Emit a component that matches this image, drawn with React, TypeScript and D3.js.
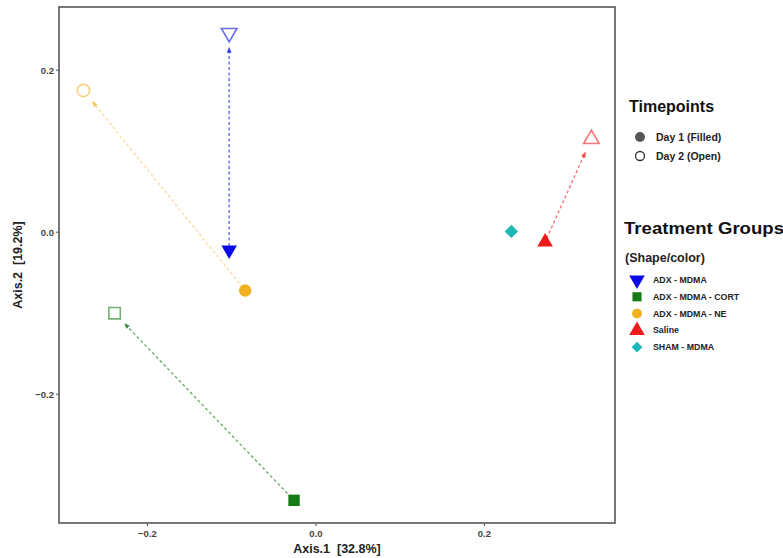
import React from "react";
import * as d3 from "d3";

// treatment groups, day 1 (filled) and day 2 (open) ordination coordinates
const groups = ["ADX - MDMA", "ADX - MDMA - CORT", "ADX - MDMA - NE", "Saline", "SHAM - MDMA"];
const colors = ["#0a0ae8", "#167a16", "#f0b020", "#ee1b1b", "#1cb8b8"];
const shapes = ["triDown", "square", "circle", "triUp", "diamond"];
const day1X = [-0.103, -0.026, -0.084, 0.272, 0.232];
const day1Y = [-0.022, -0.331, -0.072, -0.012, 0.001];
const day2X = [-0.103, -0.239, -0.276, 0.327, null];
const day2Y = [0.246, -0.1, 0.175, 0.115, null];
const xTicks = [-0.2, 0.0, 0.2];
const yTicks = [-0.2, 0.0, 0.2];

const W = 783;
const H = 558;
const panel = { left: 59, top: 7, right: 615, bottom: 523 };

const symbolPath = (shape: string, big: boolean) => {
  const k = big ? 1 : 0.8;
  if (shape === "triDown" || shape === "triUp")
    return d3.symbol(d3.symbolTriangle, 105 * k * k)()!;
  if (shape === "square") return d3.symbol(d3.symbolSquare, 130 * k * k)()!;
  if (shape === "diamond") return d3.symbol(d3.symbolSquare, 90 * k * k)()!;
  return d3.symbol(d3.symbolCircle, 120 * k * k)()!;
};

const rot = (shape: string) =>
  shape === "triDown" ? 180 : shape === "diamond" ? 45 : 0;

const App = () => {
  const x = d3.scaleLinear().domain([-0.305, 0.355]).range([panel.left, panel.right]);
  const y = d3.scaleLinear().domain([-0.359, 0.278]).range([panel.bottom, panel.top]);

  const font = "'Liberation Sans', Arial, sans-serif";

  const arrows = groups
    .map((g, i) => {
      if (day2X[i] == null) return null;
      const x1 = x(day1X[i]);
      const y1 = y(day1Y[i]);
      const x2 = x(day2X[i] as number);
      const y2 = y(day2Y[i] as number);
      const len = Math.hypot(x2 - x1, y2 - y1);
      const ux = (x2 - x1) / len;
      const uy = (y2 - y1) / len;
      return {
        i,
        x1: x1 + ux * 4,
        y1: y1 + uy * 4,
        x2: x2 - ux * 15,
        y2: y2 - uy * 15,
      };
    })
    .filter((a) => a != null) as { i: number; x1: number; y1: number; x2: number; y2: number }[];

  return (
    <svg width={W} height={H} style={{ position: "absolute", left: 0, top: 0 }}>
      <defs>
        {colors.map((c, i) => (
          <marker
            key={i}
            id={`arr${i}`}
            viewBox="0 0 10 10"
            refX={8}
            refY={5}
            markerWidth={6}
            markerHeight={6}
            markerUnits="userSpaceOnUse"
            orient="auto"
          >
            <path d="M0,1 L10,5 L0,9 Z" fill={c} opacity={0.75} />
          </marker>
        ))}
      </defs>
      <rect width={W} height={H} fill="#fff" />

      {/* arrows day1 -> day2 */}
      {arrows.map((a) => (
        <line
          key={a.i}
          x1={a.x1}
          y1={a.y1}
          x2={a.x2}
          y2={a.y2}
          stroke={colors[a.i]}
          strokeOpacity={a.i === 2 ? 0.45 : 0.65}
          strokeWidth={1.3}
          strokeDasharray="3,2.5"
          markerEnd={`url(#arr${a.i})`}
        />
      ))}

      {/* day 1 filled */}
      {groups.map((g, i) => (
        <path
          key={"d1" + i}
          d={symbolPath(shapes[i], true)}
          transform={`translate(${x(day1X[i])},${y(day1Y[i])}) rotate(${rot(shapes[i])})`}
          fill={colors[i]}
        />
      ))}

      {/* day 2 open */}
      {groups.map((g, i) =>
        day2X[i] == null ? null : (
          <path
            key={"d2" + i}
            d={symbolPath(shapes[i], true)}
            transform={`translate(${x(day2X[i] as number)},${y(day2Y[i] as number)}) rotate(${rot(shapes[i])})`}
            fill="none"
            stroke={colors[i]}
            strokeOpacity={0.6}
            strokeWidth={1.6}
          />
        )
      )}

      {/* panel border */}
      <rect
        x={panel.left}
        y={panel.top}
        width={panel.right - panel.left}
        height={panel.bottom - panel.top}
        fill="none"
        stroke="#555"
        strokeWidth={1.6}
      />

      {/* ticks */}
      {xTicks.map((t) => (
        <g key={"x" + t}>
          <line x1={x(t)} x2={x(t)} y1={panel.bottom} y2={panel.bottom + 3} stroke="#555" />
          <text
            x={x(t)}
            y={panel.bottom + 14}
            textAnchor="middle"
            fontFamily={font}
            fontWeight="bold"
            fontSize={9.5}
            fill="#444"
          >
            {d3.format(".1f")(t)}
          </text>
        </g>
      ))}
      {yTicks.map((t) => (
        <g key={"y" + t}>
          <line x1={panel.left - 3} x2={panel.left} y1={y(t)} y2={y(t)} stroke="#555" />
          <text
            x={panel.left - 5}
            y={y(t) + 3.5}
            textAnchor="end"
            fontFamily={font}
            fontWeight="bold"
            fontSize={9.5}
            fill="#444"
          >
            {d3.format(".1f")(t)}
          </text>
        </g>
      ))}

      {/* axis titles */}
      <text
        x={(panel.left + panel.right) / 2}
        y={553}
        textAnchor="middle"
        fontFamily={font}
        fontWeight="bold"
        fontSize={12.5}
        fill="#222"
        style={{ whiteSpace: "pre" }}
      >
        Axis.1  [32.8%]
      </text>
      <text
        transform={`translate(22,${(panel.top + panel.bottom) / 2}) rotate(-90)`}
        textAnchor="middle"
        fontFamily={font}
        fontWeight="bold"
        fontSize={12.5}
        fill="#222"
        style={{ whiteSpace: "pre" }}
      >
        Axis.2  [19.2%]
      </text>

      {/* legend: timepoints */}
      <g fontFamily={font} fontWeight="bold">
        <text x={629} y={112} fontSize={16} fill="#111">
          Timepoints
        </text>
        <circle cx={640} cy={137} r={5} fill="#555" />
        <text x={656} y={141} fontSize={10.5} fill="#222">
          Day 1 (Filled)
        </text>
        <circle cx={640} cy={156} r={4.5} fill="none" stroke="#333" strokeWidth={1.3} />
        <text x={656} y={160} fontSize={10.5} fill="#222">
          Day 2 (Open)
        </text>

        <text x={624} y={234} fontSize={16.5} fill="#111" textLength={160} lengthAdjust="spacingAndGlyphs">
          Treatment Groups
        </text>
        <text x={625} y={262} fontSize={12.5} fill="#222">
          (Shape/color)
        </text>
        {groups.map((g, i) => (
          <g key={"lg" + i}>
            <path
              d={symbolPath(shapes[i], i === 0 || i === 3)}
              transform={`translate(637,${280 + i * 16.8}) rotate(${rot(shapes[i])})`}
              fill={colors[i]}
            />
            <text x={653} y={283 + i * 16.8} fontSize={8.8} fill="#222">
              {g}
            </text>
          </g>
        ))}
      </g>
    </svg>
  );
};

export default App;
